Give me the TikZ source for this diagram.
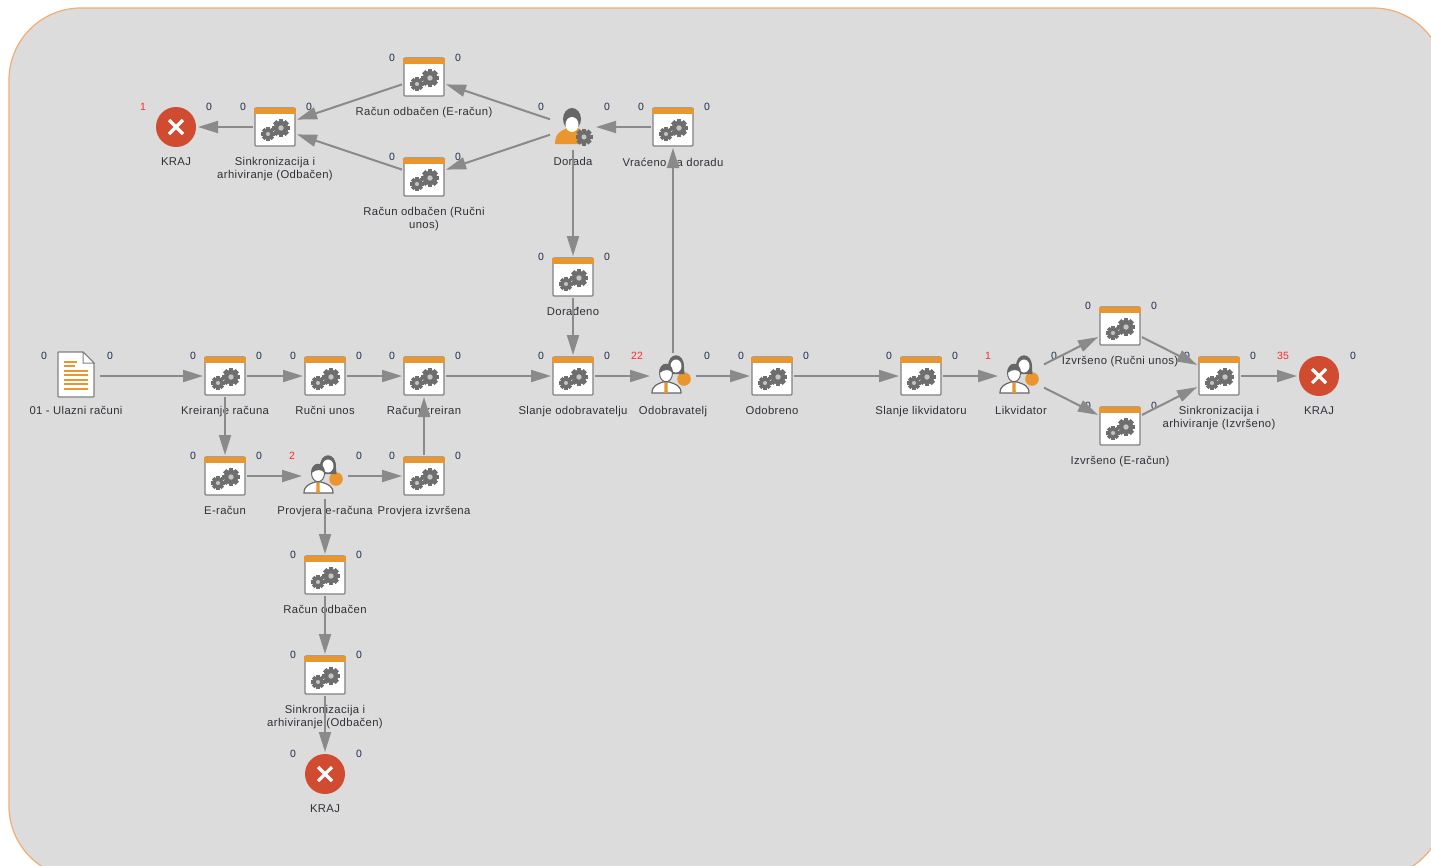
\documentclass[tikz,border=0pt]{standalone}
\usepackage{fontspec}
\setmainfont{Liberation Sans}
\newfontfamily\labfont[LetterSpace=3.2]{Liberation Sans}
\usetikzlibrary{arrows.meta,calc}
\definecolor{bgc}{HTML}{DCDCDC}
\definecolor{edgec}{HTML}{F2AE72}
\definecolor{linec}{HTML}{8A8A8A}
\definecolor{boxc}{HTML}{808080}
\definecolor{orc}{HTML}{E9962E}
\definecolor{gearc}{HTML}{6E6E6E}
\definecolor{holec}{HTML}{C4C4C4}
\definecolor{txtc}{HTML}{303038}
\definecolor{cntc}{HTML}{1E2E50}
\definecolor{redc}{HTML}{FF2A2A}
\definecolor{finc}{HTML}{D04B30}
\definecolor{hairc}{HTML}{666666}
\tikzset{
  taskbox/.style={rectangle,draw=boxc,line width=1.3pt,fill=white,rounded corners=1pt,minimum width=40pt,minimum height=38pt,inner sep=0pt,outer sep=2pt},
  iconbox/.style={rectangle,minimum width=46pt,minimum height=46pt,inner sep=0pt,outer sep=0pt},
  docbox/.style={rectangle,minimum width=48pt,minimum height=48pt,inner sep=0pt,outer sep=0pt},
  finbox/.style={circle,fill=finc,minimum size=40pt,inner sep=0pt,outer sep=2pt},
  lab/.style={font=\fontsize{11.3}{13}\labfont,text=txtc,align=center,anchor=north,inner sep=0pt},
  cnt/.style={font=\fontsize{10.5}{12}\selectfont,text=cntc,inner sep=0pt},
  cntred/.style={font=\fontsize{10.5}{12}\selectfont,text=redc,inner sep=0pt},
  conn/.style={draw=linec,line width=2pt,-{Triangle[length=20pt,width=12pt]}}
}
% gear: x, y, radius
\newcommand\gearicon[3]{%
  \foreach \ga in {0,45,...,135}{%
    \fill[gearc,rotate around={\ga:(#1,#2)}] ({#1-0.27*#3},{#2-#3}) rectangle ({#1+0.27*#3},{#2+#3});}
  \fill[gearc] (#1,#2) circle[radius={0.8*#3 pt}];
  \fill[holec] (#1,#2) circle[radius={0.3*#3 pt}];
}
% name, x, y, label
\newcommand\tasknode[4]{%
  \node[taskbox] (#1) at (#2,#3) {};
  \fill[orc] ({#2-20.6},{#3-19.4}) rectangle ({#2+20.6},{#3-13.2});
  \gearicon{#2+6}{#3+1}{9}
  \gearicon{#2-7}{#3+7}{6.8}
  \node[lab] (#1-t) at (#2,{#3+30.5}) {#4};
}
\newcommand\finishnode[4]{%
  \node[finbox] (#1) at (#2,#3) {};
  \draw[white,line width=3.2pt] ({#2-7},{#3-7}) -- ({#2+7},{#3+7}) ({#2-7},{#3+7}) -- ({#2+7},{#3-7});
  \node[lab] (#1-t) at (#2,{#3+30.5}) {#4};
}
% two persons
\newcommand\usernode[4]{%
  \node[iconbox] (#1) at (#2,#3) {};
  \begin{scope}[shift={(#2,#3)}]
    \fill[orc] (11,3) circle[radius=6.8pt];
    \fill[hairc] (-5,-8) .. controls (-6,-25) and (12,-25) .. (11,-8) -- (11.5,-2) -- (-5,-2) -- cycle;
    \fill[white] (3,-10) ellipse[x radius=5.5pt,y radius=6.5pt];
    \draw[hairc,fill=white,line width=1.2pt] (-21,17) .. controls (-21,10) and (-16,8) .. (-10,6) -- (-4,6) .. controls (3,8) and (8,10) .. (8,17) -- cycle;
    \draw[hairc,fill=white,line width=1pt] (-7,-3) ellipse[x radius=6.5pt,y radius=8.8pt];
    \fill[hairc] (-13.5,-3) .. controls (-14,-15) and (0,-15) .. (-0.5,-3) .. controls (-3,-7) and (-9,-7) .. (-13.5,-3) -- cycle;
    \fill[orc] (-8.5,6.5) -- (-5.5,6.5) -- (-5.2,17) -- (-8.8,17) -- cycle;
  \end{scope}
  \node[lab] (#1-t) at (#2,{#3+30.5}) {#4};
}
% name, x, y, label for the single person with a gear
\newcommand\workernode[4]{%
  \node[iconbox] (#1) at (#2,#3) {};
  \begin{scope}[shift={(#2,#3)}]
    \fill[orc] (-18,17) .. controls (-18,6) and (-12,4) .. (-6,1) -- (5,1) .. controls (9,3) and (10,6) .. (10,17) -- cycle;
    \fill[hairc] (-1,-8) ellipse[x radius=9pt,y radius=11pt];
    \fill[white] (-1,-2.5) ellipse[x radius=6.5pt,y radius=7.5pt];
  \end{scope}
  \gearicon{#2+11}{#3+10}{8.5}
  \node[lab] (#1-t) at (#2,{#3+30.5}) {#4};
}
\newcommand\docnode[4]{%
  \node[docbox] (#1) at (#2,#3) {};
  \begin{scope}[shift={(#2,#3)}]
    \draw[boxc,fill=white,line width=1.3pt,rounded corners=0.8pt] (-18,-24) -- (7,-24) -- (18,-13) -- (18,21) -- (-18,21) -- cycle;
    \draw[boxc,fill=white,line width=1pt] (7,-24) -- (7,-13) -- (18,-13) -- cycle;
    \foreach \ly/\lx in {-14/1,-10/-1,-5/12,-1/12,4/12,8/12,13/12}{
      \draw[orc,line width=1.1pt] (-12,\ly) -- (\lx,\ly);}
  \end{scope}
  \node[lab] (#1-t) at (#2,{#3+30.5}) {#4};
}
% name, xl, xr, y, left, right
\newcommand\cntpair[6]{%
  \node[cnt] (#1-a) at (#2,{#4+1}) {#5};
  \node[cnt] (#1-b) at (#3,{#4+1}) {#6};
}
\newcommand\redpair[6]{%
  \node[cntred] (#1-a) at (#2,{#4+1}) {#5};
  \node[cnt] (#1-b) at (#3,{#4+1}) {#6};
}
\begin{document}
\begin{tikzpicture}[x=1pt,y=-1pt]
\path[use as bounding box] (0,0) rectangle (1431,865);
\clip (0,0) rectangle (1431,865);
\fill[white] (0,0) rectangle (1431,865);
\draw[edgec,fill=bgc,line width=1.2pt,rounded corners=72pt] (9,8) rectangle (1445,878);
% nodes
\tasknode{ro}{424}{77}{Račun odbačen (E-račun)}
\tasknode{sa}{275}{127}{Sinkronizacija i\\arhiviranje (Odbačen)}
\tasknode{vd}{673}{127}{Vraćeno na doradu}
\tasknode{rr}{424}{177}{Račun odbačen (Ručni\\unos)}
\tasknode{dd}{573}{277}{Dorađeno}
\tasknode{kr}{225}{376}{Kreiranje računa}
\tasknode{ru}{325}{376}{Ručni unos}
\tasknode{rk}{424}{376}{Račun kreiran}
\tasknode{so}{573}{376}{Slanje odobravatelju}
\tasknode{od}{772}{376}{Odobreno}
\tasknode{sl}{921}{376}{Slanje likvidatoru}
\tasknode{ir}{1120}{326}{Izvršeno (Ručni unos)}
\tasknode{ie}{1120}{426}{Izvršeno (E-račun)}
\tasknode{si}{1219}{376}{Sinkronizacija i\\arhiviranje (Izvršeno)}
\tasknode{er}{225}{476}{E-račun}
\tasknode{pi}{424}{476}{Provjera izvršena}
\tasknode{rb}{325}{575}{Račun odbačen}
\tasknode{sb}{325}{675}{Sinkronizacija i\\arhiviranje (Odbačen)}
\finishnode{ea}{176}{127}{KRAJ}
\finishnode{eb}{1319}{376}{KRAJ}
\finishnode{ec}{325}{774}{KRAJ}
\workernode{da}{573}{127}{Dorada}
\usernode{ov}{673}{376}{Odobravatelj}
\usernode{li}{1021}{376}{Likvidator}
\usernode{pe}{325}{476}{Provjera e-računa}
\docnode{ul}{76}{376}{01 - Ulazni računi}
% counters
\redpair{cea}{143}{209}{106}{1}{0}
\cntpair{csa}{243}{309}{106}{0}{0}
\cntpair{cro}{392}{458}{57}{0}{0}
\cntpair{crr}{392}{458}{156}{0}{0}
\cntpair{cda}{541}{607}{106}{0}{0}
\cntpair{cvd}{641}{707}{106}{0}{0}
\cntpair{cdd}{541}{607}{256}{0}{0}
\cntpair{cul}{44}{110}{355}{0}{0}
\cntpair{ckr}{193}{259}{355}{0}{0}
\cntpair{cru}{293}{359}{355}{0}{0}
\cntpair{crk}{392}{458}{355}{0}{0}
\cntpair{cso}{541}{607}{355}{0}{0}
\redpair{cov}{637}{707}{355}{22}{0}
\cntpair{cod}{741}{806}{355}{0}{0}
\cntpair{csl}{889}{955}{355}{0}{0}
\redpair{cli}{988}{1054}{355}{1}{0}
\cntpair{cir}{1088}{1154}{305}{0}{0}
\cntpair{cie}{1088}{1154}{405}{0}{0}
\cntpair{csi}{1187}{1253}{355}{0}{0}
\redpair{ceb}{1283}{1353}{355}{35}{0}
\cntpair{cer}{193}{259}{455}{0}{0}
\redpair{cpe}{292}{359}{455}{2}{0}
\cntpair{cpi}{392}{458}{455}{0}{0}
\cntpair{crb}{293}{359}{554}{0}{0}
\cntpair{csb}{293}{359}{654}{0}{0}
\cntpair{cec}{293}{359}{753}{0}{0}
% connectors
\draw[conn] (vd) -- (da);
\draw[conn] (da) -- (ro);
\draw[conn] (da) -- (rr);
\draw[conn] (ro) -- (sa);
\draw[conn] (rr) -- (sa);
\draw[conn] (sa) -- (ea);
\draw[conn] (da) -- (dd);
\draw[conn] (dd) -- (so);
\draw[conn] (ul) -- (kr);
\draw[conn] (kr) -- (ru);
\draw[conn] (ru) -- (rk);
\draw[conn] (rk) -- (so);
\draw[conn] (so) -- (ov);
\draw[conn] (ov) -- (vd);
\draw[conn] (ov) -- (od);
\draw[conn] (od) -- (sl);
\draw[conn] (sl) -- (li);
\draw[conn] (li) -- (ir);
\draw[conn] (li) -- (ie);
\draw[conn] (ir) -- (si);
\draw[conn] (ie) -- (si);
\draw[conn] (si) -- (eb);
\draw[conn] (kr) -- (er);
\draw[conn] (er) -- (pe);
\draw[conn] (pe) -- (pi);
\draw[conn] (pi) -- (rk);
\draw[conn] (pe) -- (rb);
\draw[conn] (rb) -- (sb);
\draw[conn] (sb) -- (ec);
\end{tikzpicture}
\end{document}
